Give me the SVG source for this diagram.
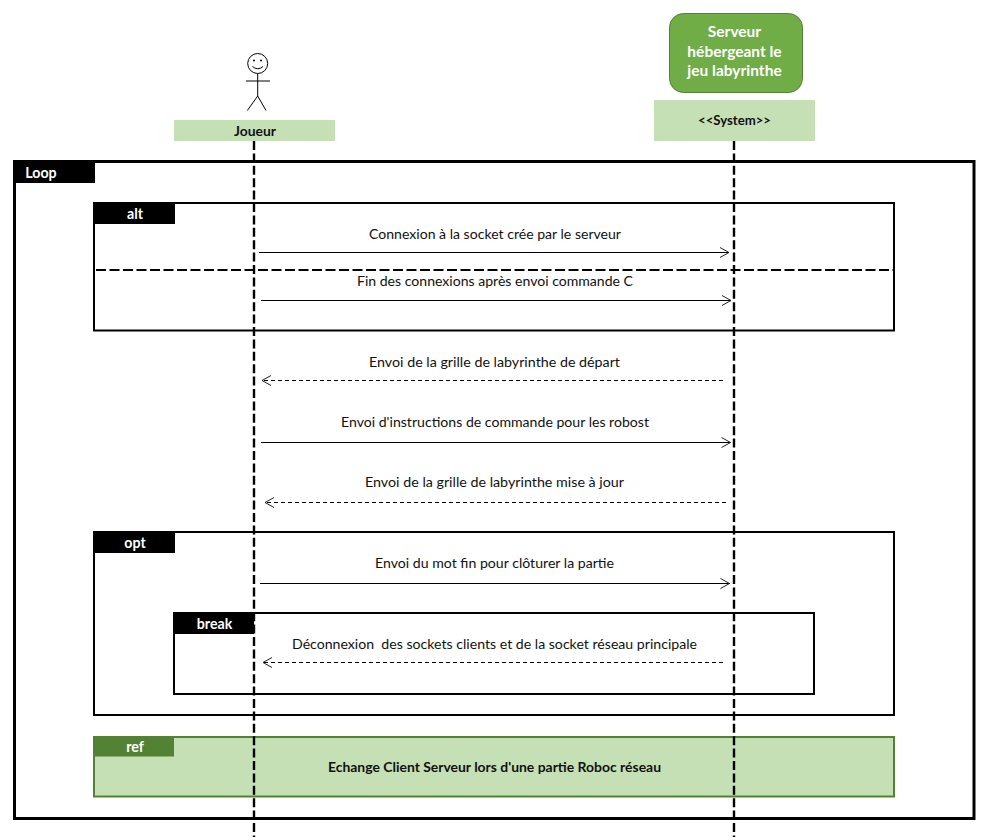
<svg xmlns="http://www.w3.org/2000/svg" width="989" height="840" viewBox="0 0 989 840">
<defs>
<style>
text{font-family:Lato,"Open Sans","Liberation Sans",sans-serif;font-size:13.5px;fill:#111;white-space:pre}
.b{font-weight:700}
.w{fill:#fff;font-weight:700;font-size:14.2px;text-anchor:middle}
.sv{fill:#fff;font-weight:700;font-size:15.5px;text-anchor:middle}
.fr{fill:none;stroke:#000;stroke-width:2}
.tag{fill:#000}
.head{fill:#C5E0B4}
.life{fill:none;stroke:#000;stroke-width:2.4;stroke-dasharray:9 3.4}
.msg{fill:none;stroke:#000;stroke-width:1;marker-end:url(#open)}
.ret{stroke-dasharray:4 3}
.st{fill:none;stroke:#000;stroke-width:1}
</style>
<marker id="open" markerUnits="userSpaceOnUse" markerWidth="12" markerHeight="14" refX="10" refY="7" orient="auto">
<path d="M1 2L10 7L1 12" fill="none" stroke="#222" stroke-width="1"/>
</marker>
</defs>
<rect width="989" height="840" fill="#fff"/>
<g id="frame-loop">
<rect x="14.5" y="161.5" width="959.5" height="657" fill="none" stroke="#000" stroke-width="3"/>
<rect class="tag" x="15" y="162" width="80" height="21"/>
<text class="w" x="41" y="178">Loop</text>
</g>
<g id="frame-ref">
<rect x="94" y="737" width="800" height="59.500" fill="#C5E0B4" stroke="#548235" stroke-width="2"/>
<rect x="94" y="737" width="80" height="19.500" fill="#548235"/>
<text class="w" x="135" y="752">ref</text>
<text class="b" x="328" y="772" textLength="333" lengthAdjust="spacingAndGlyphs">Echange Client Serveur lors d'une partie Roboc réseau</text>
</g>
<g id="frame-alt">
<rect class="fr" x="94" y="203" width="800" height="127.500"/>
<rect class="tag" x="94" y="203" width="81" height="21"/>
<text class="w" x="135" y="219">alt</text>
<line x1="96" y1="270" x2="894" y2="270" stroke="#000" stroke-width="2" stroke-dasharray="10 3.500"/>
</g>
<g id="frame-opt">
<rect class="fr" x="94" y="532" width="800" height="183"/>
<rect class="tag" x="94" y="532" width="81" height="21"/>
<text class="w" x="135" y="548">opt</text>
</g>
<g id="frame-break">
<rect class="fr" x="174" y="613" width="640" height="81"/>
<rect class="tag" x="174" y="613" width="80" height="21"/>
<text class="w" x="214.500" y="629">break</text>
</g>
<g id="node-joueur">
<g id="actor">
<circle class="st" cx="257.700" cy="63.500" r="10"/>
<circle cx="254" cy="60.500" r="1" fill="#000"/>
<circle cx="261" cy="60.500" r="1" fill="#000"/>
<path class="st" d="M252.500 66.500Q257.700 71 263 66.500"/>
<path class="st" d="M257.700 73.500V96M246 81H270M257.700 96L247.300 110.500M257.700 96L266 110.500"/>
</g>
<rect class="head" x="174" y="120" width="161" height="21"/>
<text class="b" x="234" y="136" textLength="42" lengthAdjust="spacingAndGlyphs">Joueur</text>
</g>
<g id="node-serveur">
<rect x="669.500" y="13.500" width="133" height="79" rx="14" fill="#70AD47" stroke="#548235"/>
<text class="sv" x="734.500" y="37">Serveur</text>
<text class="sv" x="734.500" y="57">hébergeant le</text>
<text class="sv" x="734.500" y="76">jeu labyrinthe</text>
<rect class="head" x="654" y="100" width="161" height="41"/>
<text class="b" x="698" y="125" textLength="73" lengthAdjust="spacingAndGlyphs">&lt;&lt;System&gt;&gt;</text>
</g>
<g id="connectors">
<line class="life" x1="254" y1="141" x2="254" y2="837"/>
<line class="life" x1="734" y1="141" x2="734" y2="837"/>
<line class="msg" x1="259" y1="252.500" x2="729" y2="252.500"/>
<line class="msg" x1="261" y1="300.500" x2="731" y2="300.500"/>
<line class="msg ret" x1="723" y1="380.500" x2="262" y2="380.500"/>
<line class="msg" x1="261" y1="442.500" x2="730.500" y2="442.500"/>
<line class="msg ret" x1="726" y1="502.500" x2="265" y2="502.500"/>
<line class="msg" x1="260" y1="583.500" x2="729.500" y2="583.500"/>
<line class="msg ret" x1="723" y1="662.500" x2="263" y2="662.500"/>
</g>
<g id="labels">
<text x="369" y="239" textLength="252" lengthAdjust="spacingAndGlyphs">Connexion à la socket crée par le serveur</text>
<text x="357" y="286" textLength="276" lengthAdjust="spacingAndGlyphs">Fin des connexions après envoi commande C</text>
<text x="369" y="367" textLength="251" lengthAdjust="spacingAndGlyphs">Envoi de la grille de labyrinthe de départ</text>
<text x="341" y="427" textLength="308" lengthAdjust="spacingAndGlyphs">Envoi d'instructions de commande pour les robost</text>
<text x="365" y="487" textLength="259" lengthAdjust="spacingAndGlyphs">Envoi de la grille de labyrinthe mise à jour</text>
<text x="375" y="568" textLength="239" lengthAdjust="spacingAndGlyphs">Envoi du mot fin pour clôturer la partie</text>
<text x="292" y="649" textLength="405" lengthAdjust="spacingAndGlyphs">Déconnexion  des sockets clients et de la socket réseau principale</text>
</g>
</svg>
